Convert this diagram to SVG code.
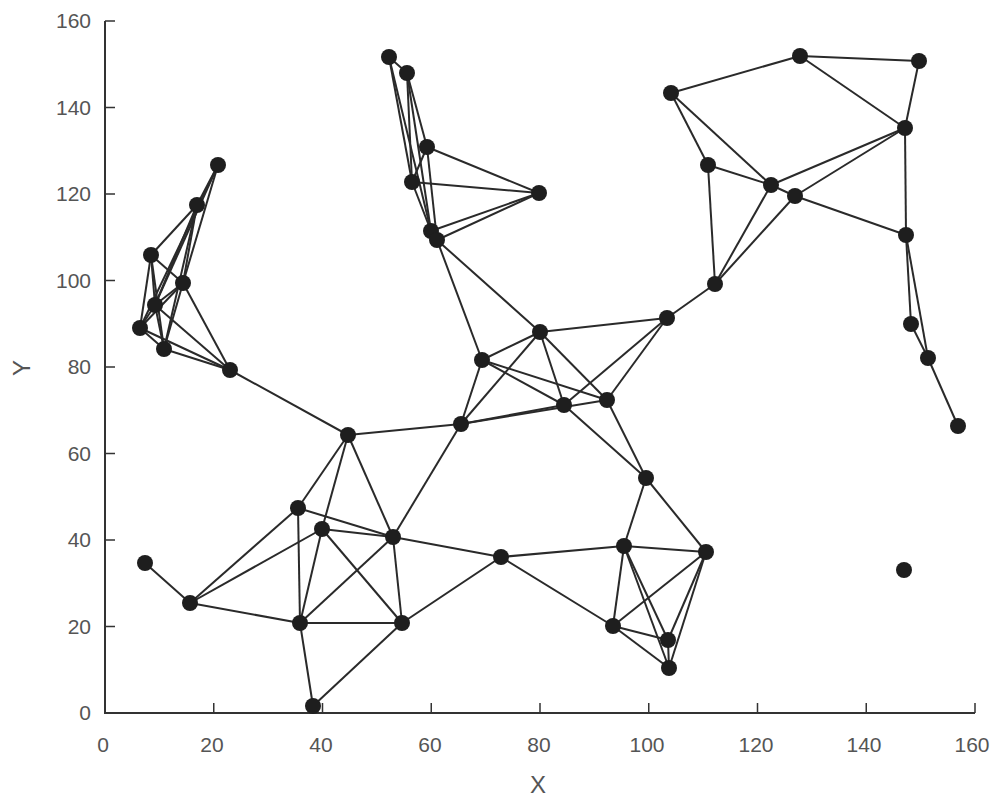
<svg xmlns="http://www.w3.org/2000/svg" width="1000" height="803" viewBox="0 0 1000 803">
<style>
.ax{stroke:#333;stroke-width:2;fill:none}
.tk{stroke:#333;stroke-width:1.5}
.lbl{font-family:"Liberation Sans",Arial,sans-serif;font-size:21px;fill:#555}
.big{font-size:24px}
.e line{stroke:#2a2a2a;stroke-width:2}
.n circle{fill:#1e1e1e}
</style>
<rect width="1000" height="803" fill="#fff"/>
<g id="axes">
<path class="ax" d="M105,21 V713 H975"/>
<path class="tk" d="M105,626.5h10M105,540h10M105,453.5h10M105,367h10M105,280.5h10M105,194h10M105,107.5h10M105,21h10"/>
<path class="tk" d="M213.75,713v-10M322.5,713v-10M431.25,713v-10M540,713v-10M648.75,713v-10M757.5,713v-10M866.25,713v-10M975,713v-10"/>
<g class="lbl" text-anchor="end">
<text x="91" y="720">0</text><text x="91" y="634">20</text><text x="91" y="547">40</text><text x="91" y="461">60</text><text x="91" y="374">80</text><text x="91" y="288">100</text><text x="91" y="201">120</text><text x="91" y="115">140</text><text x="91" y="28">160</text>
</g>
<g class="lbl" text-anchor="middle">
<text x="103" y="752">0</text><text x="212" y="752">20</text><text x="321" y="752">40</text><text x="430" y="752">60</text><text x="539" y="752">80</text><text x="647" y="752">100</text><text x="756" y="752">120</text><text x="864" y="752">140</text><text x="972" y="752">160</text>
<text class="big" x="538" y="793">X</text>
<text class="big" x="0" y="0" transform="translate(30,368) rotate(-90)">Y</text>
</g>
</g>
<g id="connectors" class="e">
<line x1="218" y1="165" x2="197" y2="205"/><line x1="218" y1="165" x2="183" y2="283"/><line x1="218" y1="165" x2="155" y2="305"/><line x1="218" y1="165" x2="140" y2="328"/>
<line x1="197" y1="205" x2="151" y2="255"/><line x1="197" y1="205" x2="183" y2="283"/><line x1="197" y1="205" x2="155" y2="305"/><line x1="197" y1="205" x2="164" y2="349"/>
<line x1="151" y1="255" x2="183" y2="283"/><line x1="151" y1="255" x2="155" y2="305"/><line x1="151" y1="255" x2="140" y2="328"/><line x1="151" y1="255" x2="164" y2="349"/>
<line x1="183" y1="283" x2="155" y2="305"/><line x1="183" y1="283" x2="140" y2="328"/><line x1="183" y1="283" x2="164" y2="349"/><line x1="183" y1="283" x2="230" y2="370"/>
<line x1="155" y1="305" x2="140" y2="328"/><line x1="155" y1="305" x2="164" y2="349"/><line x1="155" y1="305" x2="230" y2="370"/>
<line x1="140" y1="328" x2="164" y2="349"/><line x1="140" y1="328" x2="230" y2="370"/><line x1="164" y1="349" x2="230" y2="370"/>
<line x1="230" y1="370" x2="348" y2="435"/>
<line x1="389" y1="57" x2="407" y2="73"/><line x1="389" y1="57" x2="412" y2="182"/><line x1="389" y1="57" x2="431" y2="231"/>
<line x1="407" y1="73" x2="427" y2="147"/><line x1="407" y1="73" x2="412" y2="182"/><line x1="407" y1="73" x2="431" y2="231"/>
<line x1="427" y1="147" x2="412" y2="182"/><line x1="427" y1="147" x2="539" y2="193"/><line x1="427" y1="147" x2="437" y2="240"/>
<line x1="412" y1="182" x2="539" y2="193"/><line x1="412" y1="182" x2="431" y2="231"/>
<line x1="539" y1="193" x2="431" y2="231"/><line x1="539" y1="193" x2="437" y2="240"/><line x1="431" y1="231" x2="437" y2="240"/>
<line x1="437" y1="240" x2="540" y2="332"/><line x1="437" y1="240" x2="482" y2="360"/>
<line x1="800" y1="56" x2="919" y2="61"/><line x1="800" y1="56" x2="671" y2="93"/><line x1="800" y1="56" x2="905" y2="128"/><line x1="919" y1="61" x2="905" y2="128"/>
<line x1="671" y1="93" x2="708" y2="165"/><line x1="671" y1="93" x2="771" y2="185"/>
<line x1="905" y1="128" x2="771" y2="185"/><line x1="905" y1="128" x2="795" y2="196"/><line x1="905" y1="128" x2="906" y2="235"/>
<line x1="708" y1="165" x2="771" y2="185"/><line x1="708" y1="165" x2="715" y2="284"/>
<line x1="771" y1="185" x2="795" y2="196"/><line x1="771" y1="185" x2="715" y2="284"/><line x1="795" y1="196" x2="715" y2="284"/><line x1="795" y1="196" x2="906" y2="235"/>
<line x1="906" y1="235" x2="911" y2="324"/><line x1="906" y1="235" x2="928" y2="358"/><line x1="911" y1="324" x2="928" y2="358"/><line x1="928" y1="358" x2="958" y2="426"/>
<line x1="715" y1="284" x2="667" y2="318"/>
<line x1="667" y1="318" x2="540" y2="332"/><line x1="667" y1="318" x2="607" y2="400"/><line x1="667" y1="318" x2="564" y2="405"/>
<line x1="540" y1="332" x2="482" y2="360"/><line x1="540" y1="332" x2="461" y2="424"/><line x1="540" y1="332" x2="564" y2="405"/><line x1="540" y1="332" x2="607" y2="400"/>
<line x1="482" y1="360" x2="607" y2="400"/><line x1="482" y1="360" x2="564" y2="405"/><line x1="482" y1="360" x2="461" y2="424"/>
<line x1="461" y1="424" x2="564" y2="405"/><line x1="461" y1="424" x2="607" y2="400"/>
<line x1="564" y1="405" x2="646" y2="478"/><line x1="607" y1="400" x2="646" y2="478"/>
<line x1="646" y1="478" x2="624" y2="546"/><line x1="646" y1="478" x2="706" y2="552"/>
<line x1="461" y1="424" x2="348" y2="435"/><line x1="461" y1="424" x2="393" y2="537"/>
<line x1="501" y1="557" x2="393" y2="537"/><line x1="501" y1="557" x2="402" y2="623"/><line x1="501" y1="557" x2="624" y2="546"/><line x1="501" y1="557" x2="613" y2="626"/>
<line x1="624" y1="546" x2="706" y2="552"/><line x1="624" y1="546" x2="613" y2="626"/><line x1="624" y1="546" x2="668" y2="640"/><line x1="624" y1="546" x2="669" y2="668"/>
<line x1="706" y1="552" x2="613" y2="626"/><line x1="706" y1="552" x2="668" y2="640"/><line x1="706" y1="552" x2="669" y2="668"/>
<line x1="613" y1="626" x2="668" y2="640"/><line x1="613" y1="626" x2="669" y2="668"/><line x1="668" y1="640" x2="669" y2="668"/>
<line x1="348" y1="435" x2="298" y2="508"/><line x1="348" y1="435" x2="322" y2="529"/><line x1="348" y1="435" x2="393" y2="537"/>
<line x1="298" y1="508" x2="393" y2="537"/><line x1="322" y1="529" x2="393" y2="537"/>
<line x1="298" y1="508" x2="190" y2="603"/><line x1="322" y1="529" x2="190" y2="603"/>
<line x1="298" y1="508" x2="300" y2="623"/><line x1="322" y1="529" x2="300" y2="623"/><line x1="322" y1="529" x2="402" y2="623"/>
<line x1="393" y1="537" x2="300" y2="623"/><line x1="393" y1="537" x2="402" y2="623"/>
<line x1="300" y1="623" x2="402" y2="623"/><line x1="190" y1="603" x2="300" y2="623"/><line x1="145" y1="563" x2="190" y2="603"/>
<line x1="300" y1="623" x2="313" y2="706"/><line x1="402" y1="623" x2="313" y2="706"/>
</g>
<g class="n">
<g id="a1"><circle cx="218" cy="165" r="8"/></g><g id="a2"><circle cx="197" cy="205" r="8"/></g><g id="a3"><circle cx="151" cy="255" r="8"/></g><g id="a4"><circle cx="183" cy="283" r="8"/></g>
<g id="a5"><circle cx="155" cy="305" r="8"/></g><g id="a6"><circle cx="140" cy="328" r="8"/></g><g id="a7"><circle cx="164" cy="349" r="8"/></g><g id="a8"><circle cx="230" cy="370" r="8"/></g>
<g id="b1"><circle cx="389" cy="57" r="8"/></g><g id="b2"><circle cx="407" cy="73" r="8"/></g><g id="b3"><circle cx="427" cy="147" r="8"/></g><g id="b4"><circle cx="412" cy="182" r="8"/></g>
<g id="b5"><circle cx="539" cy="193" r="8"/></g><g id="b6"><circle cx="431" cy="231" r="8"/></g><g id="b7"><circle cx="437" cy="240" r="8"/></g>
<g id="c1"><circle cx="800" cy="56" r="8"/></g><g id="c2"><circle cx="919" cy="61" r="8"/></g><g id="c3"><circle cx="671" cy="93" r="8"/></g><g id="c4"><circle cx="905" cy="128" r="8"/></g>
<g id="c5"><circle cx="708" cy="165" r="8"/></g><g id="c6"><circle cx="771" cy="185" r="8"/></g><g id="c7"><circle cx="795" cy="196" r="8"/></g><g id="c8"><circle cx="906" cy="235" r="8"/></g>
<g id="c9"><circle cx="715" cy="284" r="8"/></g><g id="c10"><circle cx="667" cy="318" r="8"/></g><g id="c11"><circle cx="911" cy="324" r="8"/></g><g id="c12"><circle cx="928" cy="358" r="8"/></g><g id="c13"><circle cx="958" cy="426" r="8"/></g>
<g id="d2"><circle cx="540" cy="332" r="8"/></g><g id="d3"><circle cx="482" cy="360" r="8"/></g><g id="d4"><circle cx="607" cy="400" r="8"/></g><g id="d5"><circle cx="564" cy="405" r="8"/></g>
<g id="d6"><circle cx="461" cy="424" r="8"/></g><g id="d7"><circle cx="646" cy="478" r="8"/></g><g id="d8"><circle cx="501" cy="557" r="8"/></g><g id="d9"><circle cx="624" cy="546" r="8"/></g><g id="d10"><circle cx="706" cy="552" r="8"/></g>
<g id="e1"><circle cx="348" cy="435" r="8"/></g><g id="e2"><circle cx="298" cy="508" r="8"/></g><g id="e3"><circle cx="322" cy="529" r="8"/></g><g id="e4"><circle cx="393" cy="537" r="8"/></g>
<g id="e5"><circle cx="145" cy="563" r="8"/></g><g id="e6"><circle cx="190" cy="603" r="8"/></g><g id="e7"><circle cx="300" cy="623" r="8"/></g><g id="e8"><circle cx="402" cy="623" r="8"/></g><g id="e9"><circle cx="313" cy="706" r="8"/></g>
<g id="f3"><circle cx="613" cy="626" r="8"/></g><g id="f4"><circle cx="668" cy="640" r="8"/></g><g id="f5"><circle cx="669" cy="668" r="8"/></g>
<g id="g1"><circle cx="904" cy="570" r="8"/></g>
</g>
</svg>
